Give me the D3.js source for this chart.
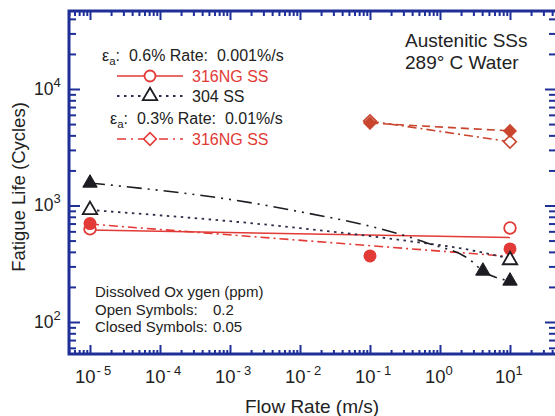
<!DOCTYPE html>
<html><head><meta charset="utf-8">
<script src="https://cdn.jsdelivr.net/npm/d3@7"></script>
<style>body{margin:0;background:#fff}svg{display:block}text{font-family:"Liberation Sans",Arial,Helvetica,sans-serif}</style>
</head><body><svg id="c" width="555" height="416"></svg>
<script>
// ---- data ----
const flowTickExps = [-5, -4, -3, -2, -1, 0, 1];
const lifeTickExps = [2, 3, 4];

// markers: 0.6% / 0.001%/s
const c316aOpenX = [1e-5, 10];
const c316aOpenY = [630, 641];
const c316aClosedX = [1e-5, 0.1, 10];
const c316aClosedY = [700, 369, 424];
const t304OpenX = [1e-5, 10];
const t304OpenY = [915, 340];
const t304ClosedX = [1e-5, 4.1, 10];
const t304ClosedY = [1560, 274, 225];
// markers: 0.3% / 0.01%/s
const d316bOpenX = [0.1, 10];
const d316bOpenY = [5300, 3530];
const d316bClosedX = [0.1, 10];
const d316bClosedY = [5100, 4370];

// trend lines
const fit316aOpenX = [1e-5, 10];
const fit316aOpenY = [616, 531];
const fit316aClosedX = [1e-5, 10];
const fit316aClosedY = [693, 365];
const fit304OpenX = [1e-5, 0.0037, 0.27, 2.68, 10];
const fit304OpenY = [915, 680, 506, 415, 350];
const fit304ClosedX = [1e-5, 0.0052, 0.65, 2.68, 4.1, 10];
const fit304ClosedY = [1560, 952, 477, 341, 274, 225];
const fit316bOpenX = [0.1, 10];
const fit316bOpenY = [5300, 3530];
const fit316bClosedX = [0.1, 10];
const fit316bClosedY = [5100, 4370];

// ---- drawing ----
const svg = d3.select("#c");
const L = 69, R = 557, T = 11, B = 354;
const x = d3.scaleLog().domain([1e-5, 10]).range([90, 510]);
const y = d3.scaleLog().domain([100, 1e4]).range([322, 89]);
const AX = "#1f2f98";
const RED = "#e23a36";
const BRN = "#c9452e";
const BLK = "#1c1c22";

function logTicks(scale, lo, hi, major) {
  const out = [];
  for (let e = -7; e <= 6; e++) for (let m = 1; m <= 9; m++) {
    const v = m * Math.pow(10, e), p = scale(v);
    if (p >= Math.min(lo, hi) - 0.5 && p <= Math.max(lo, hi) + 0.5 && ((m === 1) === major)) out.push(v);
  }
  return out;
}
const xMinor = logTicks(x, L, R, false), xMajor = logTicks(x, L, R, true);
const yMinor = logTicks(y, T, B, false), yMajor = logTicks(y, T, B, true);

function axis(gen, vals, size, tr) {
  const g = svg.append("g").attr("transform", tr)
    .call(gen.tickValues(vals).tickSize(size).tickSizeOuter(0).tickFormat(""));
  g.select(".domain").remove();
  g.selectAll("line").attr("stroke", AX).attr("stroke-width", 2);
}
axis(d3.axisBottom(x), xMinor, -4, `translate(0,${B})`);
axis(d3.axisBottom(x), xMajor, -9, `translate(0,${B})`);
axis(d3.axisTop(x), xMinor, -5, `translate(0,${T})`);
axis(d3.axisTop(x), xMajor, -9, `translate(0,${T})`);
axis(d3.axisLeft(y), yMinor, -7, `translate(${L},0)`);
axis(d3.axisLeft(y), yMajor, -11, `translate(${L},0)`);
axis(d3.axisRight(y), yMinor, -6, `translate(${R - 2},0)`);
axis(d3.axisRight(y), yMajor, -10, `translate(${R - 2},0)`);

svg.append("rect").attr("x", L).attr("y", T).attr("width", R - L).attr("height", B - T)
  .attr("fill", "none").attr("stroke", AX).attr("stroke-width", 3);

// tick labels
flowTickExps.forEach(e => {
  const t = svg.append("text").attr("x", x(Math.pow(10, e)) - 15).attr("y", 383)
    .attr("font-size", 18.5).attr("fill", "#222");
  t.append("tspan").text("10");
  if (e < 0) {
    t.append("tspan").attr("dy", -8).attr("dx", 1).attr("font-size", 13).text("-");
    t.append("tspan").attr("dx", 3).attr("font-size", 13).text(String(-e));
  } else {
    t.append("tspan").attr("dy", -8).attr("font-size", 13).text(String(e));
  }
});
lifeTickExps.forEach(e => {
  const t = svg.append("text").attr("x", 34).attr("y", y(Math.pow(10, e)) + 5.5)
    .attr("font-size", 17.5).attr("fill", "#222");
  t.append("tspan").text("10");
  t.append("tspan").attr("dy", -8).attr("font-size", 13).text(String(e));
});

// axis titles
svg.append("text").attr("transform", "translate(25,187) rotate(-90)")
  .attr("text-anchor", "middle").attr("font-size", 18.5).attr("fill", "#222")
  .text("Fatigue Life (Cycles)");
svg.append("text").attr("x", 245).attr("y", 413).attr("font-size", 19).attr("fill", "#222")
  .text("Flow Rate (m/s)");

// lines
const zip = (a, b) => a.map((v, i) => [v, b[i]]);
const lineStraight = d3.line().x(d => x(d[0])).y(d => y(d[1]));
const lineCurve = d3.line().x(d => x(d[0])).y(d => y(d[1])).curve(d3.curveMonotoneX);
function drawLine(gen, xs, ys, color, dash, w) {
  svg.append("path").attr("d", gen(zip(xs, ys))).attr("fill", "none")
    .attr("stroke", color).attr("stroke-width", w || 1.5)
    .attr("stroke-dasharray", dash || null);
}
drawLine(lineStraight, fit316aOpenX, fit316aOpenY, RED, null, 1.6);
drawLine(lineStraight, fit316aClosedX, fit316aClosedY, RED, "9,4,2,4", 1.6);
drawLine(lineCurve, fit304OpenX, fit304OpenY, "#2a2d48", "2.5,4.5", 1.8);
drawLine(lineCurve, fit304ClosedX, fit304ClosedY, BLK, "15,6,2,6,2,6", 1.6);
drawLine(lineStraight, fit316bClosedX, fit316bClosedY, BRN, "8,5", 1.6);
drawLine(lineStraight, fit316bOpenX, fit316bOpenY, BRN, "9,4,2,4", 1.6);

// markers
const tri = d3.symbol(d3.symbolTriangle, 90)();
const sq = d3.symbol(d3.symbolSquare, 80)();
function circles(xs, ys, open) {
  svg.selectAll(null).data(zip(xs, ys)).join("circle")
    .attr("cx", d => x(d[0])).attr("cy", d => y(d[1])).attr("r", open ? 5.8 : 6.5)
    .attr("fill", open ? "#fff" : RED).attr("stroke", RED).attr("stroke-width", open ? 1.8 : 0);
}
function tris(xs, ys, open) {
  svg.selectAll(null).data(zip(xs, ys)).join("path").attr("d", tri)
    .attr("transform", d => `translate(${x(d[0])},${y(d[1])})`)
    .attr("fill", open ? "#fff" : BLK).attr("stroke", BLK).attr("stroke-width", open ? 1.8 : 1);
}
function diamonds(xs, ys, open) {
  svg.selectAll(null).data(zip(xs, ys)).join("path").attr("d", sq)
    .attr("transform", d => `translate(${x(d[0])},${y(d[1])}) rotate(45)`)
    .attr("fill", open ? "#fff" : BRN).attr("stroke", BRN).attr("stroke-width", open ? 1.6 : 1);
}
circles(c316aOpenX, c316aOpenY, true);
circles(c316aClosedX, c316aClosedY, false);
tris(t304OpenX, t304OpenY, true);
tris(t304ClosedX, t304ClosedY, false);
diamonds(d316bOpenX, d316bOpenY, true);
diamonds(d316bClosedX, d316bClosedY, false);

// legend
function eps(xp, yp, pct, rate) {
  const t = svg.append("text").attr("x", xp).attr("y", yp).attr("font-size", 16).attr("fill", "#222")
    .attr("xml:space", "preserve");
  t.append("tspan").text("ε");
  t.append("tspan").attr("dy", 4).attr("font-size", 11.5).text("a");
  t.append("tspan").attr("dy", -4).text(":  " + pct + " Rate:  " + rate);
}
eps(102, 61, "0.6%", "0.001%/s");
eps(110, 124, "0.3%", "0.01%/s");

svg.append("line").attr("x1", 117).attr("x2", 183).attr("y1", 76).attr("y2", 76)
  .attr("stroke", RED).attr("stroke-width", 1.6);
svg.append("circle").attr("cx", 150).attr("cy", 76).attr("r", 5.5)
  .attr("fill", "#fff").attr("stroke", RED).attr("stroke-width", 1.8);
svg.append("text").attr("x", 192).attr("y", 82).attr("font-size", 16).attr("fill", RED).text("316NG SS");

svg.append("line").attr("x1", 117).attr("x2", 183).attr("y1", 96).attr("y2", 96)
  .attr("stroke", "#2a2d48").attr("stroke-width", 1.8).attr("stroke-dasharray", "2.5,4.5");
svg.append("path").attr("d", tri).attr("transform", "translate(150,96)")
  .attr("fill", "#fff").attr("stroke", BLK).attr("stroke-width", 1.8);
svg.append("text").attr("x", 192).attr("y", 102).attr("font-size", 16).attr("fill", "#222").text("304 SS");

svg.append("line").attr("x1", 117).attr("x2", 183).attr("y1", 139).attr("y2", 139)
  .attr("stroke", RED).attr("stroke-width", 1.6).attr("stroke-dasharray", "9,5,2,5");
svg.append("path").attr("d", sq).attr("transform", "translate(150,139) rotate(45)")
  .attr("fill", "#fff").attr("stroke", RED).attr("stroke-width", 1.6);
svg.append("text").attr("x", 192).attr("y", 145).attr("font-size", 16).attr("fill", RED).text("316NG SS");

// annotations
svg.append("text").attr("x", 405).attr("y", 47).attr("font-size", 19).attr("fill", "#222").text("Austenitic SSs");
svg.append("text").attr("x", 405).attr("y", 69).attr("font-size", 19).attr("fill", "#222").text("289° C Water");

const notes = [["Dissolved Ox ygen (ppm)", ""], ["Open Symbols:", "0.2"], ["Closed Symbols:", "0.05"]];
notes.forEach((n, i) => {
  const t = svg.append("text").attr("x", 95).attr("y", 297 + i * 17.5).attr("font-size", 15).attr("fill", "#222");
  t.append("tspan").text(n[0]);
  if (n[1]) t.append("tspan").attr("x", 213).text(n[1]);
});
</script></body></html>
